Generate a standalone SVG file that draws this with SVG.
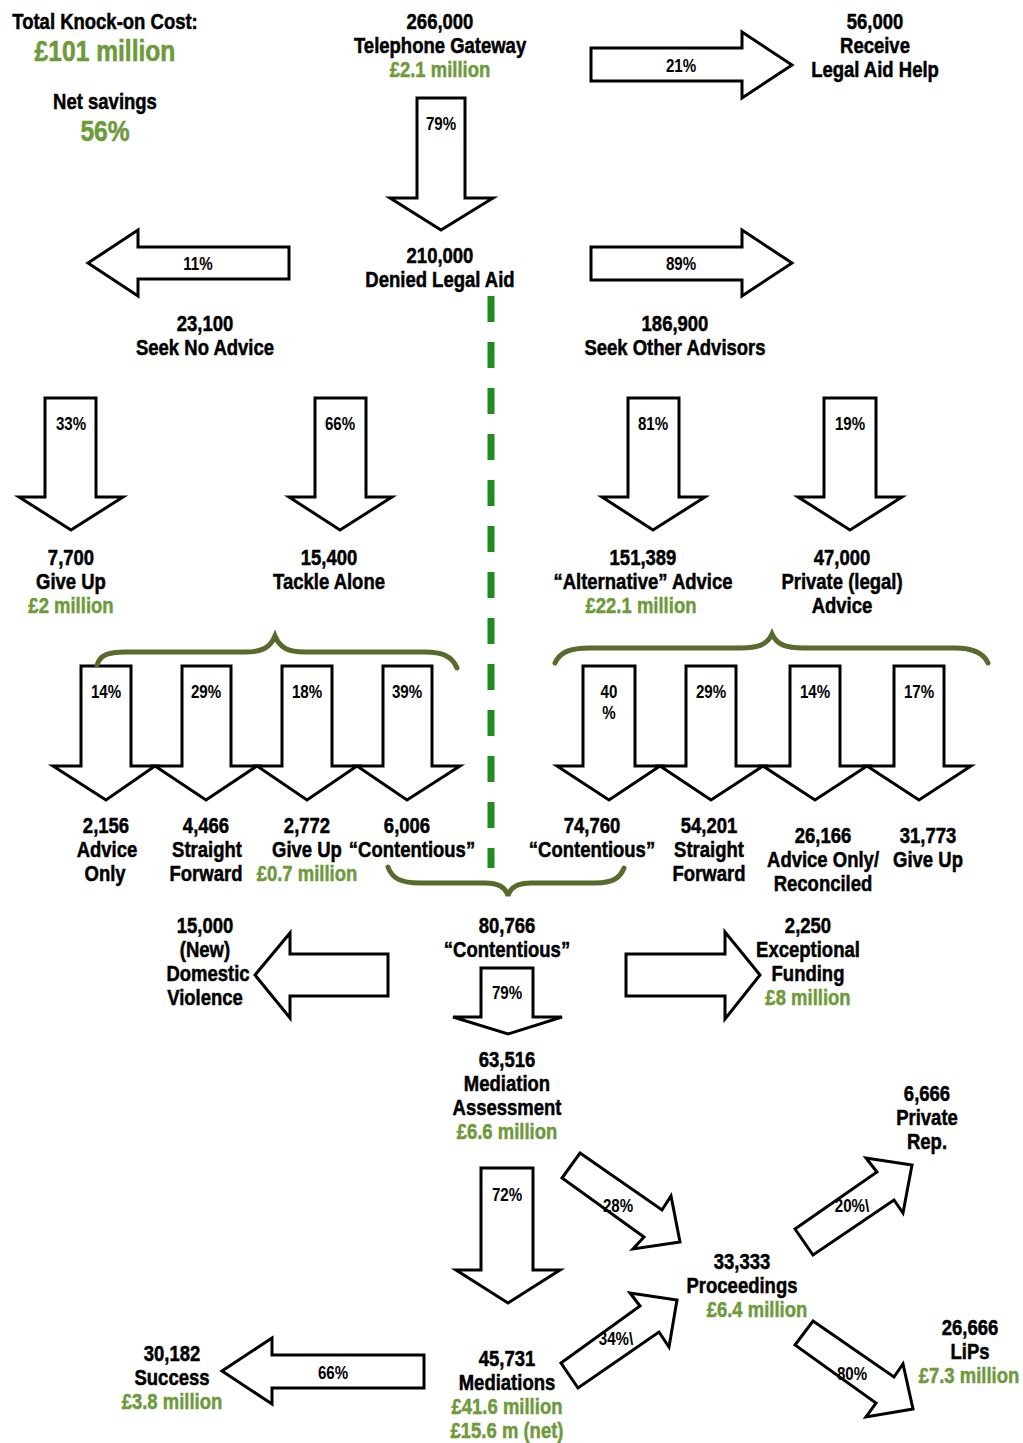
<svg xmlns="http://www.w3.org/2000/svg" width="1023" height="1443" viewBox="0 0 1023 1443">
<style>
text{font-family:"Liberation Sans",Arial,sans-serif;font-weight:bold;text-anchor:middle;transform-box:fill-box;transform-origin:center;transform:scaleX(0.86)}
.t{font-size:21.5px;fill:#000;stroke:#000;stroke-width:0.5}
.g{font-size:21.5px;fill:#6e9a3c;stroke:#6e9a3c;stroke-width:0.5}
.big{font-size:30px;fill:#6e9a3c;stroke:#6e9a3c;stroke-width:0.6;transform:scaleX(0.82)}
.p{font-size:18px;fill:#000;transform:scaleX(0.84)}
.ar{fill:#fff;stroke:#000;stroke-width:3;stroke-linejoin:miter}
.br{fill:none;stroke:#566b2c;stroke-width:5;stroke-linecap:round}
.dash{stroke:#1f8c1f;stroke-width:7;stroke-dasharray:26 20}
</style>
<rect width="1023" height="1443" fill="#fff"/>
<g id="connectors">
<polygon class="ar" points="417,98 465,98 465,198 493,198 441,230 390,198 417,198"/>
<polygon class="ar" points="591,48 742,48 742,32 792,65 742,98 742,81 591,81"/>
<polygon class="ar" points="289,247 138,247 138,230 88,263 138,296 138,279 289,279"/>
<polygon class="ar" points="591,247 742,247 742,230 792,263 742,296 742,280 591,280"/>
<polygon class="ar" points="45,398 96,398 96,497 123,497 71,530 19,497 45,497"/>
<polygon class="ar" points="315,398 366,398 366,497 392,497 340,530 289,497 315,497"/>
<polygon class="ar" points="628,398 679,398 679,497 705,497 653,530 602,497 628,497"/>
<polygon class="ar" points="824,398 876,398 876,497 902,497 850,530 798,497 824,497"/>
<polygon class="ar" points="81,666 131,666 131,766 155,766 106,800 53,766 81,766"/>
<polygon class="ar" points="182,666 231,666 231,766 257,766 206,800 155,766 182,766"/>
<polygon class="ar" points="282,666 332,666 332,766 357,766 307,800 257,766 282,766"/>
<polygon class="ar" points="383,666 432,666 432,766 460,766 407,800 357,766 383,766"/>
<polygon class="ar" points="583,666 635,666 635,766 660,766 609,800 557,766 583,766"/>
<polygon class="ar" points="686,666 736,666 736,766 763,766 711,800 660,766 686,766"/>
<polygon class="ar" points="790,666 840,666 840,766 867,766 815,800 763,766 790,766"/>
<polygon class="ar" points="894,666 944,666 944,766 971,766 919,800 867,766 894,766"/>
<polygon class="ar" points="481,968 533,968 533,1017 562,1017 508,1034 453,1017 481,1017"/>
<polygon class="ar" points="388,954 290,954 290,933 255,975 290,1018 290,996 388,996"/>
<polygon class="ar" points="626,954 725,954 725,932 760,975 725,1019 725,996 626,996"/>
<polygon class="ar" points="481,1168 533,1168 533,1270 560,1270 508,1303 456,1270 481,1270"/>
<polygon class="ar" points="424,1355 272,1355 272,1338 222,1371 272,1404 272,1388 424,1388"/>
<polygon class="ar" points="580,1153 662,1210 671,1196 680,1242 633,1249 644,1237 562,1178"/>
<polygon class="ar" points="795,1229 877,1172 866,1158 912,1165 903,1213 894,1200 813,1255"/>
<polygon class="ar" points="813,1321 894,1377 903,1364 913,1409 866,1417 876,1403 795,1345"/>
<polygon class="ar" points="561,1363 640,1306 630,1293 677,1300 669,1347 659,1332 578,1388"/>
<line class="dash" x1="491" y1="296" x2="491" y2="868"/>
<path class="br" d="M97,665 C100,655 108,652 125,652 L245,652 C262,652 270,648 275,636 C280,648 288,652 305,652 L425,652 C442,652 452,656 457,668"/>
<path class="br" d="M555,663 C560,652 570,648 590,648 L740,648 C758,648 767,645 772,634 C777,645 786,648 804,648 L955,648 C972,648 983,652 988,663"/>
<path class="br" d="M388,867 C392,878 400,883 420,883 L485,883 C500,883 506,888 508,896 C510,888 516,883 531,883 L595,883 C613,883 620,878 624,868"/>
<text class="p" x="441" y="130">79%</text>
<text class="p" x="681" y="72">21%</text>
<text class="p" x="198" y="270">11%</text>
<text class="p" x="681" y="270">89%</text>
<text class="p" x="71" y="430">33%</text>
<text class="p" x="340" y="430">66%</text>
<text class="p" x="653" y="430">81%</text>
<text class="p" x="850" y="430">19%</text>
<text class="p" x="106" y="698">14%</text>
<text class="p" x="206" y="698">29%</text>
<text class="p" x="307" y="698">18%</text>
<text class="p" x="407" y="698">39%</text>
<text class="p" x="609" y="698">40</text>
<text class="p" x="609" y="719">%</text>
<text class="p" x="711" y="698">29%</text>
<text class="p" x="815" y="698">14%</text>
<text class="p" x="919" y="698">17%</text>
<text class="p" x="507" y="999">79%</text>
<text class="p" x="507" y="1201">72%</text>
<text class="p" x="333" y="1379">66%</text>
<text class="p" x="618" y="1212">28%</text>
<text class="p" x="852" y="1212">20%\</text>
<text class="p" x="852" y="1380">80%</text>
<text class="p" x="616" y="1345">34%\</text>
</g>
<g id="n-total"><text class="t" x="105" y="29">Total Knock-on Cost:</text><text class="big" x="105" y="61">£101 million</text></g>
<g id="n-net"><text class="t" x="105" y="109">Net savings</text><text class="big" x="105" y="141">56%</text></g>
<g id="n-gateway"><text class="t" x="440" y="29">266,000</text><text class="t" x="440" y="53">Telephone Gateway</text><text class="g" x="440" y="77">£2.1 million</text></g>
<g id="n-receive"><text class="t" x="875" y="29">56,000</text><text class="t" x="875" y="53">Receive</text><text class="t" x="875" y="77">Legal Aid Help</text></g>
<g id="n-denied"><text class="t" x="440" y="263">210,000</text><text class="t" x="440" y="287">Denied Legal Aid</text></g>
<g id="n-noadvice"><text class="t" x="205" y="331">23,100</text><text class="t" x="205" y="355">Seek No Advice</text></g>
<g id="n-other"><text class="t" x="675" y="331">186,900</text><text class="t" x="675" y="355">Seek Other Advisors</text></g>
<g id="n-giveup1"><text class="t" x="71" y="565">7,700</text><text class="t" x="71" y="589">Give Up</text><text class="g" x="71" y="613">£2 million</text></g>
<g id="n-alone"><text class="t" x="329" y="565">15,400</text><text class="t" x="329" y="589">Tackle Alone</text></g>
<g id="n-alt"><text class="t" x="643" y="565">151,389</text><text class="t" x="643" y="589">“Alternative” Advice</text><text class="g" x="641" y="613">£22.1 million</text></g>
<g id="n-private"><text class="t" x="842" y="565">47,000</text><text class="t" x="842" y="589">Private (legal)</text><text class="t" x="842" y="613">Advice</text></g>
<g id="n-l1"><text class="t" x="106" y="833">2,156</text><text class="t" x="107" y="857">Advice</text><text class="t" x="105" y="881">Only</text></g>
<g id="n-l2"><text class="t" x="206" y="833">4,466</text><text class="t" x="207" y="857">Straight</text><text class="t" x="206" y="881">Forward</text></g>
<g id="n-l3"><text class="t" x="307" y="833">2,772</text><text class="t" x="307" y="857">Give Up</text><text class="g" x="307" y="881">£0.7 million</text></g>
<g id="n-l4"><text class="t" x="407" y="833">6,006</text><text class="t" x="412" y="857">“Contentious”</text></g>
<g id="n-r1"><text class="t" x="592" y="833">74,760</text><text class="t" x="592" y="857">“Contentious”</text></g>
<g id="n-r2"><text class="t" x="709" y="833">54,201</text><text class="t" x="709" y="857">Straight</text><text class="t" x="709" y="881">Forward</text></g>
<g id="n-r3"><text class="t" x="823" y="843">26,166</text><text class="t" x="823" y="867">Advice Only/</text><text class="t" x="823" y="891">Reconciled</text></g>
<g id="n-r4"><text class="t" x="928" y="843">31,773</text><text class="t" x="928" y="867">Give Up</text></g>
<g id="n-contentious"><text class="t" x="507" y="933">80,766</text><text class="t" x="507" y="957">“Contentious”</text></g>
<g id="n-dv"><text class="t" x="205" y="933">15,000</text><text class="t" x="205" y="957">(New)</text><text class="t" x="208" y="981">Domestic</text><text class="t" x="205" y="1005">Violence</text></g>
<g id="n-exc"><text class="t" x="808" y="933">2,250</text><text class="t" x="808" y="957">Exceptional</text><text class="t" x="808" y="981">Funding</text><text class="g" x="808" y="1005">£8 million</text></g>
<g id="n-assess"><text class="t" x="507" y="1067">63,516</text><text class="t" x="507" y="1091">Mediation</text><text class="t" x="507" y="1115">Assessment</text><text class="g" x="507" y="1139">£6.6 million</text></g>
<g id="n-privrep"><text class="t" x="927" y="1101">6,666</text><text class="t" x="927" y="1125">Private</text><text class="t" x="927" y="1149">Rep.</text></g>
<g id="n-proc"><text class="t" x="742" y="1269">33,333</text><text class="t" x="742" y="1293">Proceedings</text><text class="g" x="757" y="1317">£6.4 million</text></g>
<g id="n-lips"><text class="t" x="970" y="1335">26,666</text><text class="t" x="970" y="1359">LiPs</text><text class="g" x="969" y="1383">£7.3 million</text></g>
<g id="n-success"><text class="t" x="172" y="1361">30,182</text><text class="t" x="172" y="1385">Success</text><text class="g" x="172" y="1409">£3.8 million</text></g>
<g id="n-mediations"><text class="t" x="507" y="1366">45,731</text><text class="t" x="507" y="1390">Mediations</text><text class="g" x="507" y="1414">£41.6 million</text><text class="g" x="507" y="1438">£15.6 m (net)</text></g>
</svg>
